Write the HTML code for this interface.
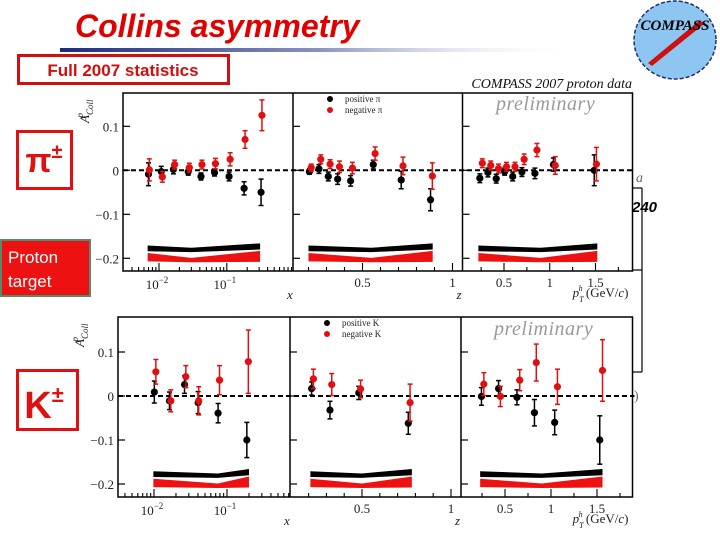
<!DOCTYPE html>
<html><head><meta charset="utf-8">
<style>
html,body{margin:0;padding:0;background:#fff;}
body{width:720px;height:540px;position:relative;overflow:hidden;font-family:"Liberation Sans",sans-serif;}
svg text{font-family:"Liberation Serif",serif;}
</style></head>
<body>
<svg id="chart" width="720" height="540" viewBox="0 0 720 540" xmlns="http://www.w3.org/2000/svg">
  <defs>
    <linearGradient id="lg" x1="0" x2="1" y1="0" y2="0">
      <stop offset="0" stop-color="#1a2a80"/>
      <stop offset="0.5" stop-color="#8a93c0"/>
      <stop offset="1" stop-color="#ffffff" stop-opacity="0"/>
    </linearGradient>
  </defs>
  <text x="75" y="37" font-size="32" font-weight="bold" font-style="italic" fill="#e00000" style="font-family:'Liberation Sans',sans-serif">Collins asymmetry</text>
  <rect x="60" y="48" width="520" height="4" fill="url(#lg)"/>
  <rect x="18.5" y="55.5" width="210" height="28" fill="#fff" stroke="#d01010" stroke-width="3"/>
  <text x="123" y="76" text-anchor="middle" font-size="17" font-weight="bold" fill="#d01010" style="font-family:'Liberation Sans',sans-serif">Full 2007 statistics</text>

  <g>
    <ellipse cx="675" cy="40" rx="41" ry="39" fill="#8ec6f2" stroke="#203070" stroke-width="1.5" stroke-dasharray="4,2"/>
    <polygon points="648,63 700,20 704,24 652,66" fill="#d01010"/>
    <text x="675" y="30" text-anchor="middle" font-size="15" font-weight="bold" font-style="italic" fill="#000">COMPASS</text>
  </g>

  <text x="632" y="88" text-anchor="end" font-size="14" font-style="italic" fill="#111">COMPASS 2007 proton data</text>

  <g stroke="#000" stroke-width="1.2" fill="none">
    <line x1="642" y1="188" x2="642" y2="372"/>
    <line x1="632" y1="188" x2="642" y2="188"/>
    <line x1="632" y1="270" x2="642" y2="270"/>
    <line x1="632" y1="372" x2="642" y2="372"/>
  </g>
  <text x="632" y="212" font-size="15" font-weight="bold" font-style="italic" fill="#000" style="font-family:'Liberation Sans',sans-serif">240</text>
  <text x="636" y="182" font-size="14" font-style="italic" fill="#666">a</text>
  <text x="634" y="400" font-size="14" fill="#666">)</text>

  <g>
    <rect x="17.5" y="131.5" width="54" height="57" fill="#fff" stroke="#e01010" stroke-width="3"/>
    <text x="44" y="172" text-anchor="middle" font-size="34" font-weight="bold" fill="#e01010" style="font-family:'Liberation Sans','DejaVu Sans',sans-serif">π<tspan font-size="20" dy="-14">±</tspan></text>
  </g>
  <g>
    <rect x="1" y="240" width="89" height="56" fill="#ee1111" stroke="#5a8a6a" stroke-width="2"/>
    <text x="8" y="263" font-size="17" fill="#fff" style="font-family:'Liberation Sans',sans-serif">Proton</text>
    <text x="8" y="287" font-size="17" fill="#fff" style="font-family:'Liberation Sans',sans-serif">target</text>
  </g>
  <g>
    <rect x="17.5" y="370.5" width="60" height="59" fill="#fff" stroke="#e01010" stroke-width="3"/>
    <text x="44" y="418" text-anchor="middle" font-size="38" font-weight="bold" fill="#e01010" style="font-family:'Liberation Sans',sans-serif">K<tspan font-size="22" dy="-16">±</tspan></text>
  </g>

  <g id="plots"></g>
</svg>
<script>
const piX_x = [0.0070,0.0108,0.0163,0.027,0.0416,0.066,0.108,0.18,0.32];
const piX_pos = [-0.009,-0.003,0.002,-0.003,-0.014,-0.005,-0.014,-0.041,-0.05];
const piX_posErr = [0.026,0.012,0.01,0.008,0.008,0.008,0.01,0.015,0.03];
const piX_xr = [0.0072,0.0112,0.017,0.028,0.043,0.068,0.112,0.186,0.33];
const piX_neg = [0.001,-0.015,0.013,0.006,0.013,0.015,0.025,0.07,0.125];
const piX_negErr = [0.025,0.012,0.01,0.01,0.01,0.012,0.015,0.02,0.035];

const piZ_z = [0.205,0.258,0.31,0.362,0.434,0.56,0.715,0.878];
const piZ_pos = [-0.003,0.003,-0.014,-0.02,-0.024,0.013,-0.022,-0.067];
const piZ_posErr = [0.006,0.01,0.01,0.012,0.012,0.01,0.02,0.025];
const piZ_zr = [0.215,0.268,0.32,0.372,0.444,0.57,0.725,0.888];
const piZ_neg = [0.006,0.025,0.014,0.008,0.005,0.038,0.01,-0.013];
const piZ_negErr = [0.008,0.01,0.01,0.013,0.013,0.015,0.02,0.03];

const piP_p = [0.236,0.324,0.415,0.507,0.595,0.696,0.838,1.04,1.486];
const piP_pos = [-0.018,-0.005,-0.019,-0.003,-0.014,-0.004,-0.007,0.013,0.0];
const piP_posErr = [0.01,0.01,0.01,0.008,0.01,0.01,0.012,0.015,0.035];
const piP_pr = [0.263,0.355,0.44,0.527,0.62,0.72,0.86,1.06,1.51];
const piP_neg = [0.016,0.011,0.004,0.008,0.008,0.025,0.046,0.011,0.014];
const piP_negErr = [0.01,0.01,0.01,0.01,0.01,0.012,0.015,0.02,0.038];

const kX_x = [0.0101,0.0163,0.0262,0.0402,0.0755,0.187];
const kX_pos = [0.009,-0.011,0.026,-0.015,-0.039,-0.1];
const kX_posErr = [0.025,0.02,0.02,0.025,0.022,0.04];
const kX_xr = [0.0106,0.017,0.0273,0.041,0.079,0.196];
const kX_neg = [0.055,-0.011,0.044,-0.011,0.036,0.078];
const kX_negErr = [0.028,0.025,0.025,0.032,0.033,0.072];

const kZ_z = [0.217,0.32,0.482,0.76];
const kZ_pos = [0.017,-0.032,0.007,-0.062];
const kZ_posErr = [0.015,0.02,0.015,0.025];
const kZ_zr = [0.227,0.33,0.492,0.77];
const kZ_neg = [0.039,0.026,0.016,-0.015];
const kZ_negErr = [0.022,0.025,0.02,0.042];

const kP_p = [0.244,0.43,0.63,0.82,1.04,1.53];
const kP_pos = [-0.001,0.017,-0.003,-0.038,-0.06,-0.1];
const kP_posErr = [0.02,0.018,0.017,0.03,0.028,0.055];
const kP_pr = [0.27,0.45,0.66,0.84,1.07,1.56];
const kP_neg = [0.027,-0.001,0.036,0.076,0.021,0.058];
const kP_negErr = [0.026,0.023,0.024,0.042,0.04,0.07];

const bandPiX_x = [0.0068,0.03,0.31];
const bandPiZ_x = [0.2,0.55,0.89];
const bandPiP_x = [0.22,0.9,1.52];
const bandKX_x = [0.0098,0.075,0.2];
const bandKZ_x = [0.21,0.5,0.78];
const bandKP_x = [0.23,0.9,1.56];
const bandBlackTop = [-0.171,-0.176,-0.166];
const bandBlackBot = [-0.184,-0.186,-0.18];
const bandRedTop = [-0.188,-0.199,-0.183];
const bandRedBot = [-0.207,-0.209,-0.208];

const yTicks = [0.1,0,-0.1,-0.2];
const yTickLabels = ["0.1","0","\u22120.1","\u22120.2"];
const zTicks = [0.5,1];
const zTickLabels = ["0.5","1"];
const pTicks = [0.5,1,1.5];
const pTickLabels = ["0.5","1","1.5"];

const NS = "http://www.w3.org/2000/svg";
const plots = document.getElementById('plots');
function el(tag, attrs, parent){
  const e = document.createElementNS(NS, tag);
  for (const k in attrs) e.setAttribute(k, attrs[k]);
  (parent||plots).appendChild(e);
  return e;
}
function makeY(y0, perUnit){ return v => y0 - v*perUnit; }
function logScale(px2, decade){ return v => px2 + decade*(Math.log10(v)+2); }
function linScale(pHalf, perUnit){ return v => pHalf + perUnit*(v-0.5); }

function drawPoints(g, xs, ys, errs, sx, sy, color, nm){
  for (let i=0;i<xs.length;i++){
    const cx = sx(xs[i]), cy = sy(ys[i]);
    const e1 = el('line',{x1:cx,x2:cx,y1:sy(ys[i]+errs[i]),y2:sy(ys[i]-errs[i]),stroke:color,'stroke-width':1.5},g);
    
    
    el('line',{x1:cx-2.5,x2:cx+2.5,y1:sy(ys[i]+errs[i]),y2:sy(ys[i]+errs[i]),stroke:color,'stroke-width':1.5},g);
    el('line',{x1:cx-2.5,x2:cx+2.5,y1:sy(ys[i]-errs[i]),y2:sy(ys[i]-errs[i]),stroke:color,'stroke-width':1.5},g);
    const c = el('circle',{cx:cx,cy:cy,r:3.6,fill:color},g);
    
    
  }
}
function drawBand(g, xs, top, bot, sx, sy, color, nm){
  let pts = [];
  for (let i=0;i<xs.length;i++) pts.push(sx(xs[i])+','+sy(top[i]));
  for (let i=xs.length-1;i>=0;i--) pts.push(sx(xs[i])+','+sy(bot[i]));
  const p = el('polygon',{points:pts.join(' '),fill:color},g);
  
  
}

function drawRow(cfg){
  const g = el('g',{});
  
  
  const sy = makeY(cfg.y0, 440);
  const {top, bot, left, d1, d2, right} = cfg;
  yTicks.forEach((t,i)=>{
    const y = sy(t);
    const lab = el('text',{x:left-4,y:y+5,'text-anchor':'end','font-size':13,fill:'#222'},g);
    lab.textContent = yTickLabels[i];
    
    
    [left,d1,d2].forEach(x0=>el('line',{x1:x0,x2:x0+7,y1:y,y2:y,stroke:'#000','stroke-width':1.2},g));
  });
  const yt = el('text',{x:0,y:0,'font-size':13,'font-style':'italic',fill:'#222',transform:`translate(${left-34},${top+30}) rotate(-90)`},g);
  yt.innerHTML = 'A<tspan font-size="9" dy="4">Coll</tspan><tspan font-size="9" dx="-18" dy="-10">p</tspan>';
  
  

  const zl = el('line',{x1:left,x2:right+2,y1:sy(0),y2:sy(0),stroke:'#000','stroke-width':2,'stroke-dasharray':'5,3'},g);
  
  

  drawBand(g, cfg.bandX, bandBlackTop, bandBlackBot, cfg.sx, sy, '#000', 'sys-band-positive-x');
  drawBand(g, cfg.bandX, bandRedTop, bandRedBot, cfg.sx, sy, '#ee1111', 'sys-band-negative-x');
  drawBand(g, cfg.bandZ, bandBlackTop, bandBlackBot, cfg.sz, sy, '#000', 'sys-band-positive-z');
  drawBand(g, cfg.bandZ, bandRedTop, bandRedBot, cfg.sz, sy, '#ee1111', 'sys-band-negative-z');
  drawBand(g, cfg.bandP, bandBlackTop, bandBlackBot, cfg.sp, sy, '#000', 'sys-band-positive-pt');
  drawBand(g, cfg.bandP, bandRedTop, bandRedBot, cfg.sp, sy, '#ee1111', 'sys-band-negative-pt');

  drawPoints(g, cfg.xPos[0], cfg.xPos[1], cfg.xPos[2], cfg.sx, sy, '#000', 'positive-x');
  drawPoints(g, cfg.xNeg[0], cfg.xNeg[1], cfg.xNeg[2], cfg.sx, sy, '#e01010', 'negative-x');
  drawPoints(g, cfg.zPos[0], cfg.zPos[1], cfg.zPos[2], cfg.sz, sy, '#000', 'positive-z');
  drawPoints(g, cfg.zNeg[0], cfg.zNeg[1], cfg.zNeg[2], cfg.sz, sy, '#e01010', 'negative-z');
  drawPoints(g, cfg.pPos[0], cfg.pPos[1], cfg.pPos[2], cfg.sp, sy, '#000', 'positive-pt');
  drawPoints(g, cfg.pNeg[0], cfg.pNeg[1], cfg.pNeg[2], cfg.sp, sy, '#e01010', 'negative-pt');

  const fr = el('rect',{x:left,y:top,width:right-left,height:bot-top,fill:'none',stroke:'#000','stroke-width':1.5},g);
  
  
  [d1,d2].forEach(x0=>el('line',{x1:x0,x2:x0,y1:top,y2:bot,stroke:'#000','stroke-width':1.5},g));

  for (let dec=-3; dec<=0; dec++){
    for (let m=1;m<10;m++){
      const v = m*Math.pow(10,dec);
      const x = cfg.sx(v);
      if (x<=left+1 || x>=d1-1) continue;
      el('line',{x1:x,x2:x,y1:bot,y2:bot-(m===1?8:4),stroke:'#000','stroke-width':1.1},g);
    }
  }
  [-2,-1].forEach(p=>{
    const t = el('text',{x:cfg.sx(Math.pow(10,p))-2,y:bot+18,'text-anchor':'middle','font-size':13,fill:'#222'},g);
    t.innerHTML = '10<tspan font-size="9" dy="-6">\u2212'+(-p)+'</tspan>';
    
    
  });
  for (let v=0.2; v<=1.01; v+=0.1){
    const x = cfg.sz(v); if (x<=d1+1||x>=d2-1) continue;
    el('line',{x1:x,x2:x,y1:bot,y2:bot-(Math.abs(v-0.5)<1e-6||Math.abs(v-1)<1e-6?8:4),stroke:'#000','stroke-width':1.1},g);
  }
  zTicks.forEach((t,i)=>{
    const lb = el('text',{x:cfg.sz(t),y:bot+16,'text-anchor':'middle','font-size':13,fill:'#222'},g);
    lb.textContent = zTickLabels[i];
    
    
  });
  for (let v=0.25; v<=1.8; v+=0.25){
    const x = cfg.sp(v); if (x<=d2+1||x>=right-1) continue;
    el('line',{x1:x,x2:x,y1:bot,y2:bot-(Math.abs(v*2-Math.round(v*2))<1e-6?8:4),stroke:'#000','stroke-width':1.1},g);
  }
  pTicks.forEach((t,i)=>{
    const lb = el('text',{x:cfg.sp(t),y:bot+16,'text-anchor':'middle','font-size':13,fill:'#222'},g);
    lb.textContent = pTickLabels[i];
    
    
  });
  const xt = el('text',{x:d1-6,y:bot+28,'font-size':13,'font-style':'italic',fill:'#222'},g);
  xt.textContent='x';
   
  const zt = el('text',{x:d2-6,y:bot+28,'font-size':13,'font-style':'italic',fill:'#222'},g);
  zt.textContent='z';
   
  const pt = el('text',{x:right-4,y:bot+26,'text-anchor':'end','font-size':13,fill:'#222'},g);
  pt.innerHTML='<tspan font-style="italic">p</tspan><tspan font-size="8" font-style="italic" dy="5">T</tspan><tspan font-size="8" font-style="italic" dx="-5" dy="-11">h</tspan><tspan dy="6"> (GeV/</tspan><tspan font-style="italic">c</tspan>)';
   

  const lg = el('g',{},g);
  
  
  el('circle',{cx:cfg.legX,cy:cfg.legY,r:3,fill:'#000'},lg);
  el('circle',{cx:cfg.legX,cy:cfg.legY+11,r:3,fill:'#e01010'},lg);
  const l1 = el('text',{x:cfg.legX+15,y:cfg.legY+3,'font-size':9,fill:'#222'},lg); l1.textContent = cfg.leg1;
   
  const l2 = el('text',{x:cfg.legX+15,y:cfg.legY+14,'font-size':9,fill:'#222'},lg); l2.textContent = cfg.leg2;
   

  const pr = el('text',{x:cfg.prelX,y:cfg.prelY,'font-size':20,'font-style':'italic',fill:'#9a9a9a','letter-spacing':'0.5'},g);
  pr.textContent='preliminary';
   
}

drawRow({
  name:'pion-panels', top:93, bot:271, left:123, d1:293, d2:462.5, right:632.5, y0:170.3,
  sx:logScale(159,67.8), sz:linScale(362.5,180), sp:linScale(504,91.5),
  xPos:[piX_x,piX_pos,piX_posErr], xNeg:[piX_xr,piX_neg,piX_negErr],
  zPos:[piZ_z,piZ_pos,piZ_posErr], zNeg:[piZ_zr,piZ_neg,piZ_negErr],
  pPos:[piP_p,piP_pos,piP_posErr], pNeg:[piP_pr,piP_neg,piP_negErr],
  bandX:bandPiX_x, bandZ:bandPiZ_x, bandP:bandPiP_x,
  legX:330, legY:99, leg1:'positive \u03c0', leg2:'negative \u03c0',
  prelX:496, prelY:110
});
drawRow({
  name:'kaon-panels', top:317, bot:497, left:118, d1:290, d2:461, right:632.5, y0:396,
  sx:logScale(154,73), sz:linScale(362,178), sp:linScale(505,92),
  xPos:[kX_x,kX_pos,kX_posErr], xNeg:[kX_xr,kX_neg,kX_negErr],
  zPos:[kZ_z,kZ_pos,kZ_posErr], zNeg:[kZ_zr,kZ_neg,kZ_negErr],
  pPos:[kP_p,kP_pos,kP_posErr], pNeg:[kP_pr,kP_neg,kP_negErr],
  bandX:bandKX_x, bandZ:bandKZ_x, bandP:bandKP_x,
  legX:327, legY:323, leg1:'positive K', leg2:'negative K',
  prelX:494, prelY:335
});
</script>
</body></html>
